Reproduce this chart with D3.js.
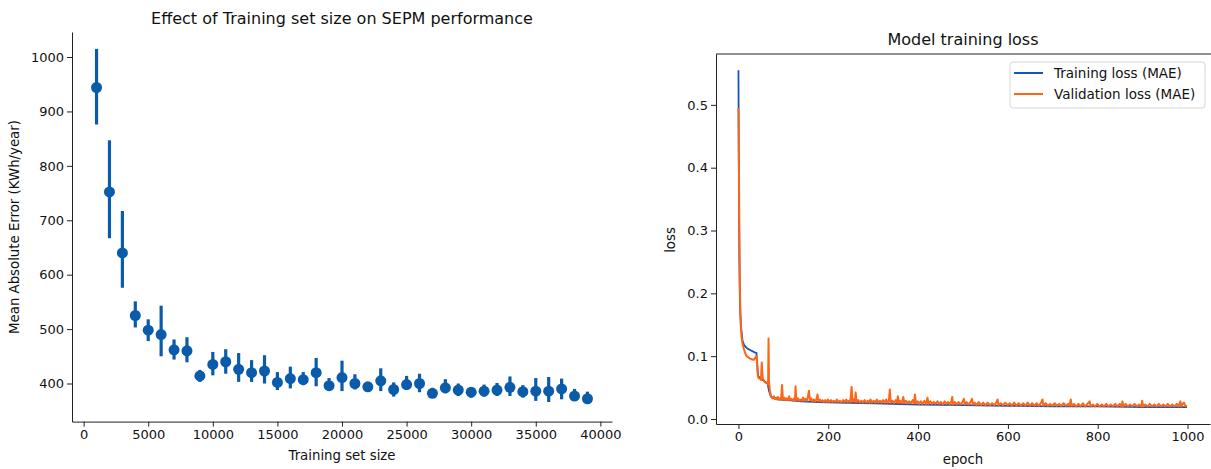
<!DOCTYPE html>
<html lang="en">
<head>
<meta charset="UTF-8">
<title>Training set size and training loss</title>
<script src="https://cdn.jsdelivr.net/npm/d3@7/dist/d3.min.js"></script>
<style>
   body { margin: 0; background: white; }
   text { font-family: "DejaVu Sans", sans-serif; fill: #111; }
   .axis text { font-size: 13px; }
   .axis path, .axis line { stroke: #222; }
   .title { font-size: 16px; text-anchor: middle; }
   .label { font-size: 13.3px; text-anchor: middle; }
</style>
</head>
<body>
<svg width="1211" height="469"></svg>
<script>
   // left: training set size vs MAE (point estimate + interval)
   const sizes = [1000, 2000, 3000, 4000, 5000, 6000, 7000, 8000, 9000, 10000,
      11000, 12000, 13000, 14000, 15000, 16000, 17000, 18000, 19000, 20000,
      21000, 22000, 23000, 24000, 25000, 26000, 27000, 28000, 29000, 30000,
      31000, 32000, 33000, 34000, 35000, 36000, 37000, 38000, 39000]
   const maeMean = [944, 752, 640, 525, 498, 490, 462, 460, 414, 435,
      440, 426, 420, 423, 402, 409, 407, 420, 396, 411,
      400, 394, 405, 389, 398, 400, 382, 392, 388, 384,
      386, 388, 393, 385, 386, 386, 390, 377, 372]
   const maeLow = [876, 667, 576, 503, 478, 450, 444, 439, 403, 415,
      418, 403, 403, 400, 388, 391, 397, 395, 388, 386,
      389, 386, 386, 376, 388, 384, 374, 382, 377, 374,
      376, 377, 377, 374, 368, 366, 371, 368, 363]
   const maeHigh = [1015, 847, 717, 551, 518, 543, 481, 485, 425, 458,
      463, 456, 443, 452, 421, 431, 421, 447, 410, 442,
      417, 402, 428, 402, 414, 418, 392, 408, 400, 393,
      398, 401, 413, 397, 410, 412, 409, 390, 385]
   const xTicksLeft = [0, 5000, 10000, 15000, 20000, 25000, 30000, 35000, 40000]
   const yTicksLeft = [400, 500, 600, 700, 800, 900, 1000]

   // right: loss per epoch, [epoch, loss]
   const trainPoints = [[0, 0.555], [1, 0.38], [2, 0.26], [3, 0.20], [4, 0.17], [6, 0.145], [9, 0.125],
      [13, 0.117], [20, 0.112], [28, 0.109], [36, 0.106], [40, 0.105], [42, 0.085], [44, 0.068],
      [50, 0.064], [58, 0.060], [65, 0.056], [68, 0.045], [72, 0.036], [78, 0.033], [90, 0.031],
      [110, 0.030], [140, 0.028], [180, 0.027], [220, 0.026], [300, 0.025], [400, 0.023],
      [500, 0.022], [600, 0.021], [700, 0.020], [800, 0.020], [900, 0.019], [999, 0.019]]
   const valPoints = [[0, 0.495], [1, 0.40], [2, 0.30], [3, 0.22], [4, 0.18], [5, 0.15], [7, 0.13],
      [9, 0.12], [12, 0.112], [15, 0.105], [18, 0.100], [22, 0.098], [26, 0.096], [30, 0.095],
      [34, 0.094], [38, 0.098], [40, 0.100], [41, 0.093], [43, 0.070], [45, 0.065], [48, 0.064],
      [50, 0.062], [52, 0.090], [54, 0.065], [57, 0.060], [60, 0.058], [63, 0.058], [66, 0.055],
      [67, 0.128], [68, 0.060], [70, 0.045], [73, 0.035],
      [76, 0.033], [79, 0.036], [81, 0.032], [84, 0.034], [86, 0.031], [88, 0.035], [90, 0.031],
      [93, 0.033], [95, 0.031], [97, 0.054], [99, 0.031], [102, 0.034], [104, 0.030], [107, 0.033],
      [110, 0.030], [113, 0.036], [115, 0.030], [118, 0.032], [121, 0.029], [124, 0.033], [126, 0.030],
      [127, 0.052], [129, 0.030], [132, 0.033], [135, 0.029], [138, 0.031], [141, 0.029], [144, 0.034],
      [146, 0.029], [149, 0.032], [152, 0.029], [155, 0.036], [157, 0.045], [159, 0.030], [162, 0.033],
      [165, 0.028], [168, 0.031], [171, 0.028], [174, 0.032], [176, 0.039], [178, 0.028], [181, 0.031],
      [184, 0.028], [187, 0.030], [190, 0.027], [193, 0.030], [196, 0.027], [199, 0.031], [202, 0.027],
      [206, 0.030], [209, 0.027], [212, 0.029], [216, 0.027], [219, 0.031], [222, 0.027], [226, 0.029],
      [229, 0.026], [233, 0.030], [236, 0.027], [240, 0.031], [243, 0.027], [246, 0.029], [249, 0.027],
      [252, 0.051], [254, 0.028], [257, 0.031], [259, 0.027], [261, 0.042], [263, 0.027], [267, 0.030],
      [270, 0.026], [274, 0.029], [277, 0.026], [281, 0.030], [284, 0.026], [288, 0.029], [291, 0.026],
      [294, 0.031], [297, 0.026], [301, 0.029], [304, 0.026], [308, 0.031], [311, 0.026], [315, 0.029],
      [318, 0.026], [322, 0.030], [325, 0.026], [329, 0.031], [332, 0.026], [335, 0.029], [337, 0.047],
      [339, 0.026], [343, 0.029], [346, 0.025], [350, 0.030], [353, 0.026], [355, 0.036], [357, 0.026],
      [360, 0.029], [364, 0.025], [367, 0.035], [369, 0.026], [373, 0.029], [376, 0.025], [380, 0.028],
      [384, 0.025], [388, 0.030], [391, 0.025], [393, 0.039], [395, 0.025], [399, 0.028], [402, 0.024],
      [406, 0.028], [410, 0.024], [414, 0.029], [418, 0.024], [421, 0.034], [423, 0.024], [427, 0.028],
      [431, 0.024], [435, 0.027], [439, 0.024], [443, 0.028], [447, 0.024], [451, 0.027], [455, 0.023],
      [459, 0.028], [463, 0.024], [467, 0.027], [471, 0.023], [474, 0.028], [476, 0.035], [478, 0.023],
      [482, 0.027], [486, 0.023], [490, 0.027], [494, 0.023], [498, 0.026], [502, 0.032], [504, 0.023],
      [508, 0.027], [512, 0.023], [516, 0.026], [520, 0.032], [522, 0.023], [526, 0.026], [530, 0.022],
      [535, 0.027], [540, 0.022], [545, 0.026], [550, 0.022], [555, 0.026], [560, 0.022], [565, 0.025],
      [570, 0.022], [574, 0.026], [577, 0.031], [579, 0.022], [584, 0.025], [589, 0.022], [594, 0.026],
      [599, 0.022], [604, 0.025], [609, 0.021], [614, 0.026], [619, 0.021], [624, 0.025], [629, 0.021],
      [634, 0.025], [639, 0.021], [644, 0.026], [649, 0.021], [654, 0.025], [659, 0.021], [664, 0.025],
      [669, 0.021], [674, 0.026], [677, 0.031], [679, 0.021], [684, 0.025], [689, 0.021], [694, 0.024],
      [699, 0.021], [704, 0.025], [709, 0.021], [714, 0.024], [719, 0.021], [724, 0.025], [729, 0.021],
      [734, 0.024], [737, 0.021], [740, 0.031], [742, 0.021], [747, 0.024], [752, 0.020], [757, 0.024],
      [762, 0.020], [767, 0.025], [772, 0.020], [777, 0.024], [782, 0.028], [784, 0.020], [789, 0.023],
      [794, 0.020], [799, 0.024], [804, 0.020], [809, 0.023], [814, 0.020], [819, 0.024], [824, 0.020],
      [829, 0.023], [834, 0.020], [839, 0.024], [844, 0.020], [849, 0.024], [853, 0.020], [855, 0.028],
      [857, 0.020], [862, 0.024], [867, 0.020], [872, 0.023], [877, 0.020], [882, 0.024], [887, 0.020],
      [892, 0.023], [897, 0.020], [899, 0.029], [901, 0.020], [906, 0.023], [911, 0.020], [916, 0.024],
      [921, 0.020], [926, 0.023], [931, 0.020], [936, 0.024], [941, 0.020], [946, 0.023], [951, 0.020],
      [956, 0.024], [961, 0.020], [966, 0.023], [971, 0.020], [976, 0.024], [980, 0.020], [984, 0.028],
      [986, 0.020], [990, 0.025], [992, 0.026], [995, 0.021], [999, 0.020]]
   const xTicksRight = [0, 200, 400, 600, 800, 1000]
   const yTicksRight = [0.0, 0.1, 0.2, 0.3, 0.4, 0.5]
   const seriesNames = ['Training loss (MAE)', 'Validation loss (MAE)']

   const blue = '#0b5bab'
   const lineBlue = '#1457b8'
   const orange = '#ff6512'

   const svg = d3.select('svg')
   svg.append('rect').attr('width', 1211).attr('height', 469).attr('fill', 'white')

   // ---- left panel
   const xL = d3.scaleLinear([-900, 40900], [72, 612])
   const yL = d3.scaleLinear([330, 1046], [421.6, 32])

   svg.append('g')
      .attr('class', 'axis')
      .attr('transform', `translate(0, ${yL.range()[0]})`)
      .call(d3.axisBottom(xL).tickValues(xTicksLeft).tickFormat(d3.format('d'))
         .tickSize(5).tickPadding(3).tickSizeOuter(0))
   svg.append('g')
      .attr('class', 'axis')
      .attr('transform', `translate(${xL.range()[0]}, 0)`)
      .call(d3.axisLeft(yL).tickValues(yTicksLeft).tickFormat(d3.format('d'))
         .tickSize(5).tickPadding(3).tickSizeOuter(0))
   svg.selectAll('.axis text').attr('font-family', null).attr('font-size', null)

   const pts = sizes.map((s, i) => ({ s, m: maeMean[i], lo: maeLow[i], hi: maeHigh[i] }))
   svg.append('g').selectAll('line')
      .data(pts)
      .join('line')
         .attr('x1', d => xL(d.s)).attr('x2', d => xL(d.s))
         .attr('y1', d => yL(d.lo)).attr('y2', d => yL(d.hi))
         .attr('stroke', blue).attr('stroke-width', 3.2)
   svg.append('g').selectAll('circle')
      .data(pts)
      .join('circle')
         .attr('cx', d => xL(d.s)).attr('cy', d => yL(d.m))
         .attr('r', 5.5).attr('fill', blue)

   svg.append('text').attr('class', 'title').attr('x', 342).attr('y', 24)
      .text('Effect of Training set size on SEPM performance')
   svg.append('text').attr('class', 'label').attr('x', 342).attr('y', 460)
      .text('Training set size')
   svg.append('text').attr('class', 'label')
      .attr('transform', 'translate(19, 227) rotate(-90)')
      .text('Mean Absolute Error (KWh/year)')

   // ---- right panel
   const xR = d3.scaleLinear([-50, 1050], [716, 1210])
   const yR = d3.scaleLinear([-0.008, 0.581], [424, 54])

   svg.append('g')
      .attr('class', 'axis')
      .attr('transform', `translate(0, ${yR.range()[0]})`)
      .call(d3.axisBottom(xR).tickValues(xTicksRight).tickFormat(d3.format('d'))
         .tickSize(5).tickPadding(3).tickSizeOuter(0))
   svg.append('g')
      .attr('class', 'axis')
      .attr('transform', `translate(${xR.range()[0]}, 0)`)
      .call(d3.axisLeft(yR).tickValues(yTicksRight).tickFormat(d3.format('.1f'))
         .tickSize(5).tickPadding(3).tickSizeOuter(0))
   svg.append('line')
      .attr('x1', xR.range()[0]).attr('x2', 1211)
      .attr('y1', yR.range()[1]).attr('y2', yR.range()[1])
      .attr('stroke', '#222')
   svg.selectAll('.axis text').attr('font-family', null).attr('font-size', null)

   const line = d3.line().x(d => xR(d[0])).y(d => yR(d[1]))
   svg.append('path')
      .datum(trainPoints)
      .attr('d', line).attr('fill', 'none').attr('stroke', lineBlue).attr('stroke-width', 1.8)
   svg.append('path')
      .datum(valPoints)
      .attr('d', line).attr('fill', 'none').attr('stroke', orange)
      .attr('stroke-width', 2).attr('stroke-linejoin', 'round')

   svg.append('text').attr('class', 'title').attr('x', 963).attr('y', 45)
      .text('Model training loss')
   svg.append('text').attr('class', 'label').attr('x', 963).attr('y', 464)
      .text('epoch')
   svg.append('text').attr('class', 'label')
      .attr('transform', 'translate(675, 240) rotate(-90)')
      .text('loss')

   // legend
   const legend = svg.append('g').attr('transform', 'translate(1010, 62)')
   legend.append('rect')
      .attr('width', 195).attr('height', 46).attr('rx', 3)
      .attr('fill', 'white').attr('stroke', '#d6d6d6')
   legend.selectAll('g')
      .data(seriesNames)
      .join('g')
         .attr('transform', (d, i) => `translate(0, ${11 + i * 21})`)
         .each(function (d, i) {
            const g = d3.select(this)
            g.append('line').attr('x1', 4).attr('x2', 33)
               .attr('stroke', i ? orange : lineBlue).attr('stroke-width', 2)
            g.append('text').attr('x', 44).attr('dy', '0.35em')
               .style('font-size', '13.5px').text(d)
         })
</script>
</body>
</html>
